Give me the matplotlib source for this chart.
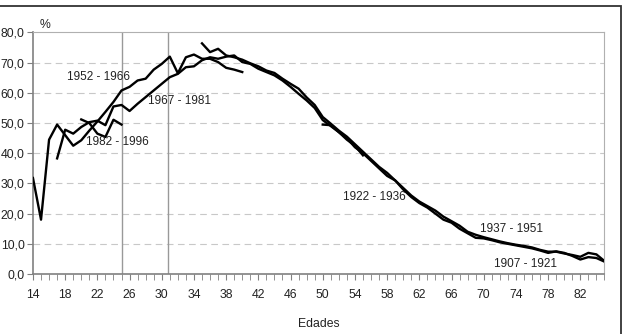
from matplotlib import pyplot as plt
from matplotlib.patches import Rectangle
import numpy as np

plt.rcParams["font.family"] = ["Liberation Sans", "DejaVu Sans"]

# cohortes: edades iniciales y valores (%)
start_p = 14
serie_p = [31.8, 18.0, 44.5, 49.5, 46.0, 42.5, 44.3, 47.5, 50.5, 53.7, 57.0, 60.8,
           62.0, 64.1, 64.7, 67.7, 69.6, 72.0, 66.5, 71.8, 72.7, 71.3, 71.3, 70.2,
           68.3, 67.7, 66.9]

start_q = 17
serie_q = [38.3, 47.8, 46.5, 48.7, 50.3, 50.8, 49.3, 55.5, 56.0, 54.0, 56.4, 58.6,
           60.8, 63.0, 65.2, 66.3, 68.5, 68.8, 70.8, 71.8, 71.3, 72.0, 72.4, 70.2,
           69.6, 68.0, 66.9, 65.8, 64.1, 62.0, 59.7, 57.5, 55.0, 51.0, 49.0, 47.0,
           44.5, 42.5, 39.3]

start_r = 20
serie_r = [51.2, 50.0, 46.5, 45.4, 51.1, 49.5]

start_s = 35
serie_s = [76.4, 73.5, 74.6, 72.4, 71.8, 71.0, 69.8, 68.8, 67.4, 66.6, 64.7, 63.0,
           61.4, 58.5, 56.0, 52.0, 49.8, 47.5, 45.5, 43.0, 40.5, 38.0, 35.5, 33.5,
           31.0, 28.5, 26.0, 24.0, 22.5, 21.0, 19.0, 17.5, 16.0, 14.0, 13.0, 12.2,
           11.5, 10.8, 10.2, 9.7, 9.3, 8.8, 8.0, 7.4, 7.4, 6.8, 6.3, 5.7, 7.0, 6.5,
           4.3]

start_t = 50
serie_t = [49.5, 49.3, 47.0, 45.0, 42.0, 40.0, 37.5, 35.0, 32.5, 31.0, 28.0, 25.5,
           23.5, 22.0, 20.0, 18.0, 17.0, 15.0, 13.5, 12.0, 11.8, 11.2, 10.5, 10.0,
           9.5, 9.0, 8.5, 7.8, 7.0, 7.5, 7.0, 6.0, 4.8, 5.6, 5.3, 4.1]

etiquetas = ["1952 - 1966", "1967 - 1981", "1982 - 1996",
             "1922 - 1936", "1937 - 1951", "1907 - 1921"]
etiq_x = [22.1, 32.2, 24.5, 56.4, 73.5, 75.2]
etiq_y = [65.1, 57.2, 43.6, 25.5, 14.9, 3.3]

lineas_v = [25, 30.75]

fig = plt.figure(figsize=(6.28, 3.34), dpi=100)
ax = fig.add_axes([0.0525, 0.1796, 0.91, 0.7231])

# marco exterior del grafico
fig.patches.append(Rectangle((-0.01, -0.05), 0.9995, 1.032, transform=fig.transFigure,
                             fill=False, edgecolor="#333333", linewidth=1.3))

for start, serie in [(start_p, serie_p), (start_q, serie_q), (start_r, serie_r),
                     (start_s, serie_s), (start_t, serie_t)]:
    edades = np.arange(start, start + len(serie))
    ax.plot(edades, serie, color="black", linewidth=1.7, zorder=3)

for xv in lineas_v:
    ax.axvline(xv, color="#999999", linewidth=1.0, zorder=2)

for txt, x, y in zip(etiquetas, etiq_x, etiq_y):
    ax.text(x, y, txt, ha="center", va="center", fontsize=8.5, color="#222222", zorder=4)

ax.set_xlim(14, 85)
ax.set_ylim(0, 80)
ax.set_yticks(np.arange(0, 81, 10))
ax.set_yticklabels([("%.1f" % v).replace(".", ",") for v in np.arange(0, 81, 10)])
ax.set_xticks(np.arange(14, 85, 4))
ax.set_xticks(np.arange(14, 86, 1), minor=True)

for v in range(10, 80, 10):
    ax.axhline(v, color="#c8c8c8", linewidth=0.8, linestyle=(0, (6, 4)), zorder=1)

ax.tick_params(axis="both", which="both", direction="out", color="#808080",
               labelsize=8.8, labelcolor="#222222")
ax.tick_params(axis="x", which="major", length=4, pad=7)
ax.tick_params(axis="x", which="minor", length=4)
ax.tick_params(axis="y", length=4, pad=2)

for side in ["top", "right"]:
    ax.spines[side].set_color("#b0b0b0")
for side in ["left", "bottom"]:
    ax.spines[side].set_color("#808080")
    ax.spines[side].set_linewidth(1.2)

ax.text(0.012, 1.008, "%", transform=ax.transAxes, fontsize=8.8, ha="left", va="bottom",
        color="#222222")
ax.set_xlabel("Edades", fontsize=8.8, color="#222222", labelpad=12)

fig.savefig("out.png", dpi=100)
